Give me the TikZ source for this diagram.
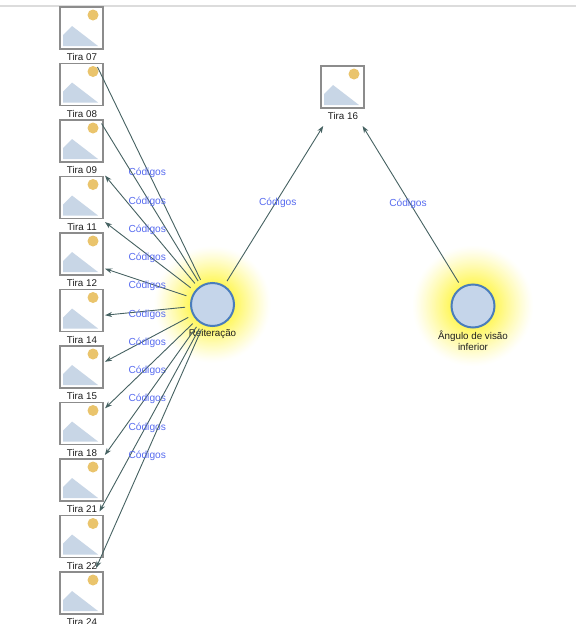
\documentclass[tikz,border=0pt]{standalone}
\usepackage{fontspec}
\setmainfont{Liberation Sans}
\usetikzlibrary{arrows.meta,calc}
\definecolor{edgec}{RGB}{70,98,98}
\definecolor{codc}{RGB}{88,108,240}
\definecolor{circfill}{RGB}{197,213,234}
\definecolor{circdraw}{RGB}{74,125,187}
\definecolor{framec}{RGB}{140,140,140}
\definecolor{mountc}{RGB}{200,214,230}
\definecolor{sunc}{RGB}{234,196,108}
\definecolor{topc}{RGB}{220,220,220}
\definecolor{textc}{RGB}{30,30,30}
\tikzset{
  tiranode/.style={rectangle,minimum width=46pt,minimum height=64pt,inner sep=0pt,outer sep=0pt,draw=none},
  tiralab/.style={inner sep=0pt,font=\fontsize{9.8}{11}\selectfont,text=textc},
  framebox/.style={draw=framec,line width=1.8pt},
  conc/.style={circle,minimum size=43pt,inner sep=0pt,fill=circfill,draw=circdraw,line width=2pt},
  conclab/.style={inner sep=0pt,font=\fontsize{9.8}{11}\selectfont,text=textc,align=center},
  conn/.style={draw=edgec,line width=0.9pt,shorten <=5pt},
  arr/.style={-{Stealth[length=7pt,width=5pt]}},
  codlab/.style={inner sep=0pt,font=\fontsize{10.2}{12}\selectfont,text=codc,yshift=-3.5pt}
}
\newcommand\tiraimg[4]{% #1 name, #2 centre x, #3 top y, #4 label
  \node[tiranode] (#1) at (#2,#3+28) {};
  \fill[mountc] (#2-19,#3+39) -- (#2-19,#3+28) -- (#2-10,#3+19) -- (#2+16,#3+39) -- cycle;
  \fill[sunc] (#2+11,#3+8) circle (5.5pt);
  \draw[framebox] (#2-22,#3) rectangle (#2+21,#3+42);
  \node[tiralab] (#1l) at (#2,#3+50) {#4};
}
\newcommand\glowat[3]{% #1 x, #2 y, #3 outer radius
  \foreach \k in {0,...,28} {
    \pgfmathsetmacro\rr{#3-\k*(#3-22)/28}
    \pgfmathsetmacro\pp{1+64*(\k/28)^1.15}
    \fill[yellow!\pp] (#1,#2) circle (\rr pt);
  }
}
\begin{document}
\begin{tikzpicture}[x=1pt,y=-1pt]
\useasboundingbox (0,0) rectangle (576,624);
\fill[white] (0,0) rectangle (576,624);
\draw[topc,line width=1.2pt] (0,6) -- (576,6);
% glows
\glowat{212.5}{304.5}{58}
\glowat{473}{306}{60}
% image nodes
\tiraimg{t07}{82}{7}{Tira 07}
\tiraimg{t08}{82}{63.5}{Tira 08}
\tiraimg{t09}{82}{120}{Tira 09}
\tiraimg{t11}{82}{176.5}{Tira 11}
\tiraimg{t12}{82}{233}{Tira 12}
\tiraimg{t14}{82}{289.5}{Tira 14}
\tiraimg{t15}{82}{346}{Tira 15}
\tiraimg{t18}{82}{402.5}{Tira 18}
\tiraimg{t21}{82}{459}{Tira 21}
\tiraimg{t22}{82}{515.5}{Tira 22}
\tiraimg{t24}{82}{572}{Tira 24}
\tiraimg{t16}{343}{66}{Tira 16}
% concept nodes
\node[conc] (R) at (212.5,304.5) {};
\node[conclab] (Rl) at (212.5,334) {Reiteração};
\node[conc] (A) at (473,306) {};
\node[conclab,anchor=north] (Al) at (473,330.5) {Ângulo de visão\\inferior};
% connectors
\foreach \n in {t07,t08} {
  \draw[conn] (R) -- (\n);
  \node[codlab] (c\n) at ($(R)!0.5!(\n)$) {Códigos};
}
\foreach \n in {t09,t11,t12,t14,t15,t18,t21,t22,t24} {
  \draw[conn,arr] (R) -- (\n);
  \node[codlab] (c\n) at ($(R)!0.5!(\n)$) {Códigos};
}
\draw[conn,arr] (R) -- (t16);
\node[codlab] (cR16) at ($(R)!0.5!(t16)$) {Códigos};
\draw[conn,arr] (A) -- (t16);
\node[codlab] (cA16) at ($(A)!0.5!(t16)$) {Códigos};
\end{tikzpicture}
\end{document}
